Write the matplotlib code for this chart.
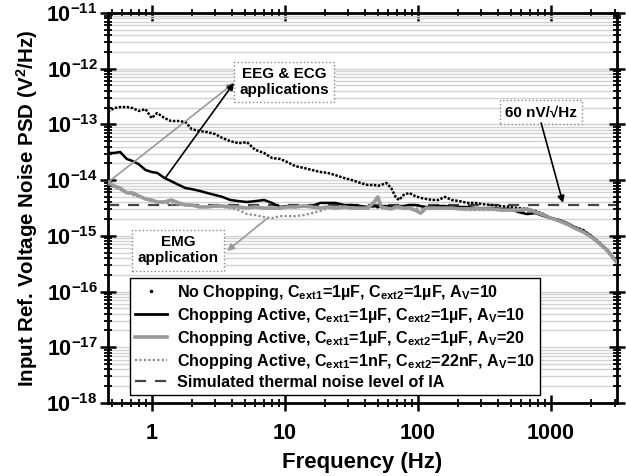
import matplotlib
matplotlib.use("Agg")
import matplotlib.pyplot as plt
from matplotlib.lines import Line2D
from matplotlib.ticker import LogLocator, FixedLocator, FixedFormatter, NullFormatter

plt.rcParams['font.family'] = ['Liberation Sans', 'DejaVu Sans']
plt.rcParams['font.weight'] = 'bold'
plt.rcParams['mathtext.fontset'] = 'custom'
plt.rcParams['mathtext.rm'] = 'Liberation Sans:bold'
plt.rcParams['mathtext.it'] = 'Liberation Sans:bold'
plt.rcParams['mathtext.bf'] = 'Liberation Sans:bold'
plt.rcParams['mathtext.sf'] = 'Liberation Sans:bold'

# frequency points (Hz)
freq = [0.47, 0.52, 0.58, 0.65, 0.72, 0.8, 0.9, 1.0, 1.1, 1.25, 1.4, 1.6, 1.8, 2.0,
        2.3, 2.6, 3.0, 3.4, 3.9, 4.5, 5.2, 6.0, 7.0, 8.0, 9.2, 10.5, 12, 14, 16,
        18.5, 21, 24, 28, 32, 37, 42, 47, 50, 53, 58, 63, 68, 72, 78, 86, 95, 105,
        115, 128, 142, 160, 180, 205, 235, 270, 310, 360, 420, 490, 570, 660, 760,
        880, 1000, 1150, 1320, 1500, 1750, 2000, 2300, 2650, 3100]

# PSD (V^2/Hz)
psd_no_chop = [1.67e-13, 1.96e-13, 2.05e-13, 2.05e-13, 1.96e-13, 1.74e-13, 1.88e-13,
               1.30e-13, 1.60e-13, 1.30e-13, 1.15e-13, 1.15e-13, 1.10e-13, 8.2e-14,
               7.6e-14, 7.3e-14, 6.7e-14, 5.7e-14, 5.0e-14, 4.6e-14, 4.8e-14, 3.5e-14,
               3.07e-14, 2.5e-14, 2.4e-14, 2.1e-14, 1.78e-14, 1.65e-14, 1.52e-14,
               1.40e-14, 1.35e-14, 1.23e-14, 1.09e-14, 1.0e-14, 8.9e-15, 8.2e-15,
               8.2e-15, 7.9e-15, 8.2e-15, 8.9e-15, 7.2e-15, 5.0e-15, 4.4e-15, 5.4e-15,
               5.9e-15, 5.2e-15, 4.8e-15, 4.6e-15, 4.4e-15, 4.4e-15, 5.0e-15, 4.4e-15,
               4.2e-15, 3.9e-15, 3.9e-15, 3.7e-15, 3.57e-15, 3.43e-15, 3.3e-15,
               3.15e-15, 3.05e-15, 2.8e-15, 2.46e-15, 2.08e-15, 1.92e-15, 1.63e-15,
               1.44e-15, 1.27e-15, 1.0e-15, 7.7e-16, 5.5e-16, 3.4e-16]

psd_chop_av10 = [3.07e-14, 3.07e-14, 3.2e-14, 2.4e-14, 2.2e-14, 1.93e-14, 1.52e-14,
                 1.40e-14, 1.35e-14, 1.09e-14, 9.6e-15, 8.2e-15, 7.2e-15, 6.9e-15,
                 6.4e-15, 5.9e-15, 5.4e-15, 5.0e-15, 4.4e-15, 4.2e-15, 4.05e-15, 4.2e-15,
                 4.4e-15, 3.9e-15, 3.3e-15, 3.43e-15, 3.3e-15, 3.43e-15, 3.43e-15,
                 3.9e-15, 3.9e-15, 3.9e-15, 3.57e-15, 3.57e-15, 3.43e-15, 3.3e-15,
                 3.43e-15, 3.3e-15, 3.43e-15, 3.43e-15, 3.3e-15, 3.43e-15, 3.43e-15,
                 3.43e-15, 3.57e-15, 3.57e-15, 3.43e-15, 3.3e-15, 3.3e-15, 3.43e-15,
                 3.43e-15, 3.3e-15, 3.3e-15, 3.3e-15, 3.15e-15, 3.15e-15, 3.15e-15,
                 3.05e-15, 3.05e-15, 2.67e-15, 2.46e-15, 2.56e-15, 2.26e-15, 2.08e-15,
                 1.92e-15, 1.70e-15, 1.44e-15, 1.22e-15, 1.0e-15, 7.4e-16, 5.6e-16, 3.5e-16]

psd_chop_av20 = [9.3e-15, 7.9e-15, 7.2e-15, 5.9e-15, 5.9e-15, 5.2e-15, 4.6e-15, 4.4e-15,
                 4.05e-15, 4.05e-15, 4.4e-15, 3.9e-15, 3.57e-15, 3.57e-15, 3.3e-15,
                 3.3e-15, 3.43e-15, 3.43e-15, 3.3e-15, 3.3e-15, 3.15e-15, 3.3e-15,
                 3.15e-15, 3.15e-15, 3.15e-15, 3.3e-15, 3.3e-15, 3.43e-15, 3.3e-15,
                 3.15e-15, 3.3e-15, 3.15e-15, 3.3e-15, 3.15e-15, 3.15e-15, 3.15e-15,
                 4.05e-15, 5.0e-15, 3.3e-15, 3.15e-15, 3.05e-15, 3.3e-15, 3.3e-15,
                 3.15e-15, 3.15e-15, 2.9e-15, 2.56e-15, 3.15e-15, 3.15e-15, 3.15e-15,
                 3.15e-15, 3.15e-15, 3.05e-15, 3.05e-15, 3.05e-15, 3.05e-15, 3.05e-15,
                 2.9e-15, 2.9e-15, 2.9e-15, 3.05e-15, 2.67e-15, 2.36e-15, 2.08e-15,
                 1.85e-15, 1.63e-15, 1.38e-15, 1.17e-15, 9.6e-16, 7.4e-16, 5.5e-16, 3.4e-16]

psd_chop_1n22n = [8.5e-15, 7.5e-15, 6.7e-15, 6.1e-15, 5.4e-15, 5.0e-15, 4.6e-15, 4.2e-15,
                  4.05e-15, 3.9e-15, 3.7e-15, 3.57e-15, 3.57e-15, 3.43e-15, 3.43e-15,
                  3.3e-15, 3.3e-15, 3.3e-15, 3.15e-15, 2.9e-15, 2.46e-15, 2.36e-15,
                  2.17e-15, 2.08e-15, 2.26e-15, 2.26e-15, 2.26e-15, 2.36e-15, 2.56e-15,
                  2.8e-15, 3.15e-15, 3.15e-15, 3.15e-15, 3.3e-15, 3.15e-15, 3.15e-15,
                  3.3e-15, 3.15e-15, 3.15e-15, 3.05e-15, 3.15e-15, 3.15e-15, 3.15e-15,
                  3.05e-15, 3.05e-15, 3.05e-15, 3.15e-15, 3.05e-15, 3.05e-15, 3.05e-15,
                  3.05e-15, 3.05e-15, 3.05e-15, 2.9e-15, 2.9e-15, 2.9e-15, 2.9e-15,
                  2.9e-15, 2.9e-15, 2.8e-15, 2.67e-15, 2.56e-15, 2.36e-15, 2.08e-15,
                  1.85e-15, 1.57e-15, 1.38e-15, 1.17e-15, 9.6e-16, 7.1e-16, 5.1e-16, 3.3e-16]

thermal_level = 3.6e-15   # 60 nV/sqrt(Hz) squared

labels = [r'No Chopping, C$_{\rm ext1}$=1µF, C$_{\rm ext2}$=1µF, A$_{\rm V}$=10',
          r'Chopping Active, C$_{\rm ext1}$=1µF, C$_{\rm ext2}$=1µF, A$_{\rm V}$=10',
          r'Chopping Active, C$_{\rm ext1}$=1µF, C$_{\rm ext2}$=1µF, A$_{\rm V}$=20',
          r'Chopping Active, C$_{\rm ext1}$=1nF, C$_{\rm ext2}$=22nF, A$_{\rm V}$=10',
          'Simulated thermal noise level of IA']

fig = plt.figure(figsize=(6.26, 4.76), dpi=100)
ax = fig.add_axes([0.1725, 0.1534, 0.8131, 0.8193])

ax.plot(freq, psd_no_chop, color='black', lw=1.8, ls=(0, (1, 0.6)), zorder=3)
ax.plot(freq, psd_chop_av10, color='black', lw=1.8, zorder=4)
ax.plot(freq, psd_chop_1n22n, color='#8c8c8c', lw=1.6, ls=(0, (1, 1)), zorder=3)
ax.plot(freq, psd_chop_av20, color='#9a9a9a', lw=2.6, zorder=5)
ax.axhline(thermal_level, color='#444444', lw=1.6, ls=(0, (5, 4)), zorder=2)

ax.set_xscale('log')
ax.set_yscale('log')
ax.set_xlim(0.47, 3130)
ax.set_ylim(1e-18, 1e-11)

ax.set_yticks([10.0 ** e for e in range(-18, -10)])
ax.set_yticklabels([r'$10^{%d}$' % e for e in range(-18, -10)])
ax.yaxis.set_minor_locator(LogLocator(base=10, subs=range(2, 10), numticks=100))
ax.yaxis.set_minor_formatter(NullFormatter())
ax.xaxis.set_major_locator(FixedLocator([1, 10, 100, 1000]))
ax.xaxis.set_major_formatter(FixedFormatter(['1', '10', '100', '1000']))
ax.xaxis.set_minor_locator(LogLocator(base=10, subs=range(2, 10), numticks=100))
ax.xaxis.set_minor_formatter(NullFormatter())

ax.tick_params(which='major', direction='inout', length=11, width=1.8,
               top=True, right=True, labelsize=15.5, pad=2)
ax.tick_params(which='minor', direction='inout', length=6, width=1.3,
               top=True, right=True)
ax.tick_params(axis='x', which='major', pad=9)

ax.grid(True, axis='y', which='both', color='#d2d2d2', lw=1.0, zorder=0)
for s in ax.spines.values():
    s.set_linewidth(2)

ax.set_xlabel('Frequency (Hz)', fontsize=16, fontweight='bold', labelpad=6)
ax.set_ylabel(r'Input Ref. Voltage Noise PSD (V$^{2}$/Hz)', fontsize=14.8,
              fontweight='bold', labelpad=4)

# annotation boxes
box = dict(boxstyle='square,pad=0.35', fc='white', ec='#888888', ls=':', lw=1)
ax.text(0.346, 0.823, 'EEG & ECG\napplications', transform=ax.transAxes,
        ha='center', va='center', fontsize=11, fontweight='bold', bbox=box, zorder=6)
ax.text(0.851, 0.746, '60 nV/√Hz', transform=ax.transAxes, ha='center', va='center',
        fontsize=11, fontweight='bold', bbox=box, zorder=6)
ax.text(0.1375, 0.392, 'EMG\napplication', transform=ax.transAxes, ha='center',
        va='center', fontsize=11, fontweight='bold', bbox=box, zorder=6)

ax.annotate('', xy=(0.2475, 0.8205), xycoords='axes fraction', xytext=(0.48, 9.5e-15),
            textcoords='data',
            arrowprops=dict(arrowstyle='-|>', color='#999999', lw=1.2, shrinkA=0, shrinkB=0),
            zorder=6)
ax.annotate('', xy=(0.2475, 0.8205), xycoords='axes fraction', xytext=(1.27, 1.1e-14),
            textcoords='data',
            arrowprops=dict(arrowstyle='-|>', color='black', lw=1.2, shrinkA=0, shrinkB=0),
            zorder=7)
ax.annotate('', xy=(1230, 3.9e-15), xycoords='data', xytext=(0.851, 0.718),
            textcoords='axes fraction',
            arrowprops=dict(arrowstyle='-|>', color='black', lw=1.2, shrinkA=0, shrinkB=0),
            zorder=7)
ax.annotate('', xy=(0.234, 0.39), xycoords='axes fraction', xytext=(7.45, 2.1e-15),
            textcoords='data',
            arrowprops=dict(arrowstyle='-|>', color='#999999', lw=1.2, shrinkA=0, shrinkB=0),
            zorder=6)

handles = [Line2D([], [], ls='', marker='.', ms=3, color='black'),
           Line2D([], [], color='black', lw=2),
           Line2D([], [], color='#9a9a9a', lw=2.6),
           Line2D([], [], color='#8c8c8c', lw=1.6, ls=(0, (1, 1))),
           Line2D([], [], color='#444444', lw=1.6, ls=(0, (5, 4)))]
leg = ax.legend(handles, labels, loc='upper left', bbox_to_anchor=(0.043, 0.3205),
                borderaxespad=0, fontsize=11.6, fancybox=False, framealpha=1,
                edgecolor='black', handlelength=2.0, handletextpad=0.6,
                labelspacing=0.25, borderpad=0.3)
leg.get_frame().set_linewidth(1)
leg.set_zorder(8)

fig.savefig('out.png', dpi=100)
